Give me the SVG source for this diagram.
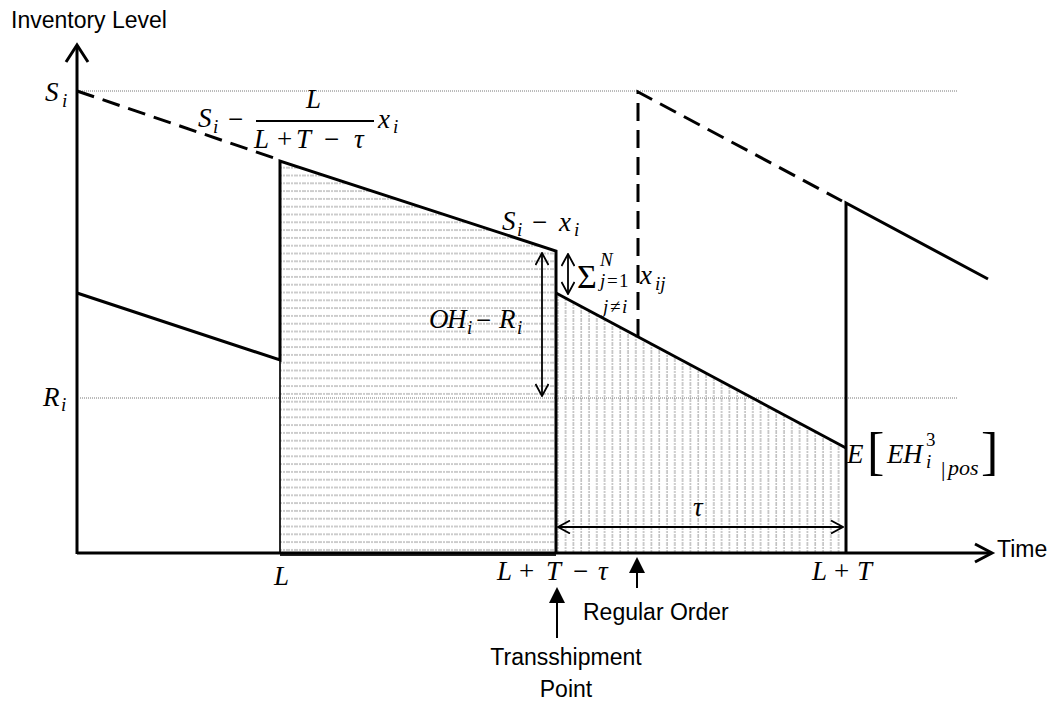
<svg xmlns="http://www.w3.org/2000/svg" width="1053" height="702" viewBox="0 0 1053 702">
<style>
.lbl{font-family:"Liberation Sans",Arial,sans-serif;font-size:23px;fill:#000}
.m{font-family:"Liberation Serif","Times New Roman",serif;font-style:italic;font-size:27px;fill:#000}
.mu{font-family:"Liberation Serif","Times New Roman",serif;font-size:27px;fill:#000}
.ms{font-family:"Liberation Serif","Times New Roman",serif;font-style:italic;font-size:19px;fill:#000}
.msu{font-family:"Liberation Serif","Times New Roman",serif;font-size:19px;fill:#000}
.thick{stroke:#000;stroke-width:3;fill:none;stroke-linejoin:miter}
.dash{stroke-dasharray:18 9}
.dot{stroke:#777;stroke-width:1;stroke-dasharray:1 1;fill:none}
.thin{stroke:#000;stroke-width:1.8;fill:none}
</style>
<defs>
<pattern id="hpat" width="8" height="7.8" patternUnits="userSpaceOnUse">
<line x1="0" y1="4" x2="8" y2="4" stroke="#9a9a9a" stroke-width="1" stroke-dasharray="2 1"/>
</pattern>
<pattern id="vpat" width="7.8" height="8" patternUnits="userSpaceOnUse">
<line x1="4" y1="0" x2="4" y2="8" stroke="#9a9a9a" stroke-width="1" stroke-dasharray="2 1"/>
</pattern>
<marker id="oa" viewBox="0 0 14 14" refX="13" refY="7" markerWidth="14" markerHeight="14" markerUnits="userSpaceOnUse" orient="auto-start-reverse">
<path d="M1,0.5 L13,7 L1,13.5" fill="none" stroke="#000" stroke-width="1.8"/>
</marker>
</defs>
<rect x="0" y="0" width="1053" height="702" fill="#fff"/>

<g id="regions">
<polygon points="280,161 556,251 556,553 280,553" fill="url(#hpat)" stroke="#444" stroke-width="1"/>
<polygon points="556,293 846,448 846,553 556,553" fill="url(#vpat)"/>
<line x1="280" y1="554" x2="556" y2="554" stroke="#222" stroke-width="4"/>
</g>

<g id="guides">
<line class="dot" x1="80" y1="91" x2="958" y2="91"/>
<line class="dot" x1="80" y1="398" x2="958" y2="398"/>
</g>

<g id="axes">
<path class="thick" d="M77,554 L77,46"/>
<path class="thick" d="M66,62 L77,45 L88,62"/>
<path class="thick" d="M77,553 L991,553"/>
<path class="thick" d="M975,544 L992,553 L975,562"/>
<text class="lbl" x="11" y="28">Inventory Level</text>
<text class="lbl" x="997" y="557">Time</text>
</g>

<g id="connectors">
<path class="thick dash" d="M77,91 L280,160"/>
<path class="thick" d="M77,293 L280,360 L280,161 L556,251 L556,553"/>
<line x1="280" y1="360" x2="280" y2="553" stroke="#000" stroke-width="1.5"/>
<path class="thick" d="M556,293 L846,448"/>
<path class="thick" d="M846,553 L846,203 L988,279"/>
<path class="thick dash" d="M638,337 L638,92 L842,201"/>
<line class="thin" x1="542" y1="253" x2="542" y2="396" marker-start="url(#oa)" marker-end="url(#oa)"/>
<line class="thin" x1="568" y1="254" x2="568" y2="294" marker-start="url(#oa)" marker-end="url(#oa)"/>
<line class="thin" x1="558" y1="527" x2="843" y2="527" marker-start="url(#oa)" marker-end="url(#oa)"/>
<line x1="637" y1="570" x2="637" y2="588" stroke="#000" stroke-width="2"/>
<polygon points="637,557 629,573 645,573" fill="#000"/>
<line x1="557" y1="600" x2="557" y2="638" stroke="#000" stroke-width="2"/>
<polygon points="557,587 549,603 565,603" fill="#000"/>
</g>

<g id="label-Si">
<text class="m" x="45" y="101">S</text><text class="ms" x="62" y="107">i</text>
</g>
<g id="label-Ri">
<text class="m" x="43" y="406">R</text><text class="ms" x="61" y="411">i</text>
</g>

<g id="label-formula">
<text class="m" x="198" y="127">S</text><text class="ms" x="213" y="133">i</text>
<text class="mu" x="228" y="128">−</text>
<line x1="256" y1="121" x2="374" y2="121" stroke="#000" stroke-width="2"/>
<text class="m" x="306" y="108">L</text>
<text class="m" x="254" y="148">L</text>
<text class="mu" x="277" y="148">+</text>
<text class="m" x="296" y="148">T</text>
<text class="mu" x="324" y="148">−</text>
<text class="m" x="354" y="148">τ</text>
<text class="m" x="378" y="128">x</text><text class="ms" x="393" y="133">i</text>
</g>

<g id="label-Sixi">
<text class="m" x="502" y="230">S</text><text class="ms" x="517" y="236">i</text>
<text class="mu" x="532" y="231">−</text>
<text class="m" x="559" y="231">x</text><text class="ms" x="574" y="236">i</text>
</g>

<g id="label-OH">
<text class="m" x="429" y="328">O</text><text class="m" x="447" y="328">H</text><text class="ms" x="467" y="334">i</text>
<text class="mu" x="476" y="329">−</text>
<text class="m" x="499" y="328">R</text><text class="ms" x="517" y="334">i</text>
</g>

<g id="label-sum">
<text class="mu" x="577" y="288" style="font-size:34px">Σ</text>
<text class="ms" x="600" y="266">N</text>
<text class="ms" x="600" y="287">j</text><text class="msu" x="607" y="287">=</text><text class="msu" x="619" y="287">1</text>
<text class="m" x="640" y="284">x</text><text class="ms" x="655" y="290">ij</text>
<text class="ms" x="603" y="313">j</text><text class="msu" x="610" y="313">≠</text><text class="ms" x="622" y="313">i</text>
</g>

<g id="label-E">
<text class="m" x="847" y="463">E</text>
<text class="mu" x="867" y="469" style="font-size:52px">[</text>
<text class="m" x="887" y="463">E</text><text class="m" x="903" y="463">H</text>
<text class="msu" x="926" y="446">3</text><text class="ms" x="926" y="468">i</text>
<text class="msu" x="941" y="476" style="font-size:22px">|</text><text class="ms" x="948" y="475" style="font-size:22px">pos</text>
<text class="mu" x="981" y="469" style="font-size:52px">]</text>
</g>

<g id="label-tau">
<text class="m" x="693" y="516">τ</text>
</g>

<g id="label-L">
<text class="m" x="274" y="585">L</text>
</g>
<g id="label-LTt">
<text class="m" x="497" y="580">L</text>
<text class="mu" x="519" y="580">+</text>
<text class="m" x="546" y="580">T</text>
<text class="mu" x="573" y="580">−</text>
<text class="m" x="598" y="580">τ</text>
</g>
<g id="label-LT">
<text class="m" x="812" y="580">L</text>
<text class="mu" x="834" y="580">+</text>
<text class="m" x="857" y="580">T</text>
</g>

<g id="label-regular">
<text class="lbl" x="583" y="620">Regular Order</text>
</g>
<g id="label-trans">
<text class="lbl" x="566" y="665" text-anchor="middle">Transshipment</text>
<text class="lbl" x="566" y="697" text-anchor="middle">Point</text>
</g>
</svg>
